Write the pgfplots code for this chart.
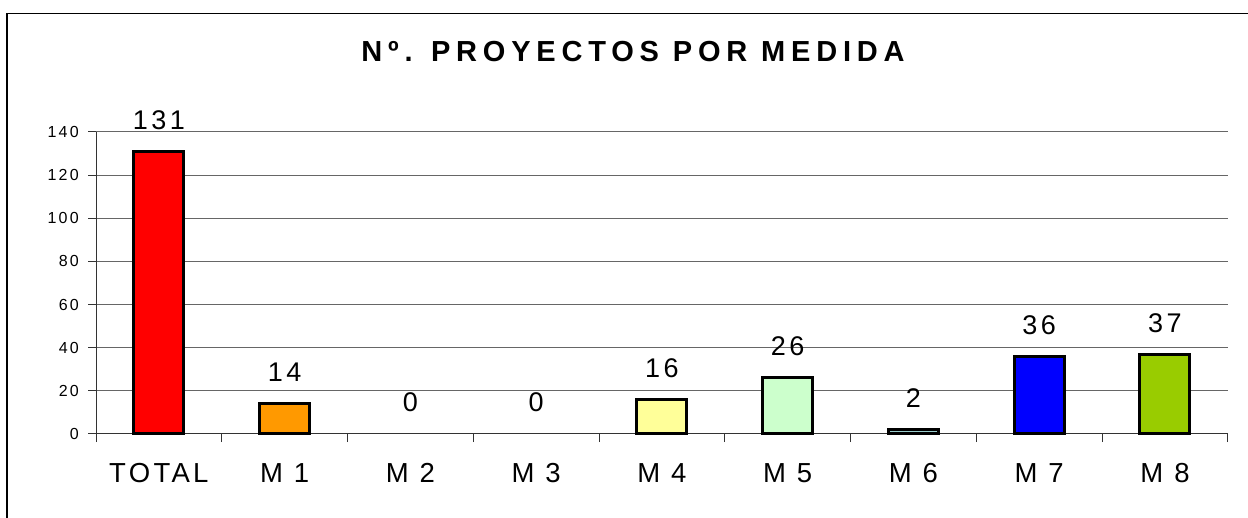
\documentclass[border=0pt]{standalone}
\usepackage{fontspec}
\setmainfont{Liberation Sans}
\usepackage{pgfplots}
\pgfplotsset{compat=1.18}
\definecolor{cTot}{HTML}{FF0000}
\definecolor{cMa}{HTML}{FF9900}
\definecolor{cMd}{HTML}{FFFF99}
\definecolor{cMe}{HTML}{CCFFCC}
\definecolor{cMf}{HTML}{99CCCC}
\definecolor{cMg}{HTML}{0000FF}
\definecolor{cMh}{HTML}{99CC00}
\newcommand{\titlefont}{\fontsize{29}{29}\selectfont\bfseries\addfontfeature{LetterSpace=20}}
\newcommand{\catfont}{\fontsize{27.5}{27.5}\selectfont\addfontfeature{LetterSpace=12}}
\newcommand{\valfont}{\fontsize{27}{27}\selectfont\addfontfeature{LetterSpace=13}}
\newcommand{\tickfont}{\fontsize{16}{16}\selectfont\addfontfeature{LetterSpace=14}}
\begin{document}
\begin{tikzpicture}[x=1pt,y=1pt]
\path[use as bounding box] (0pt,0pt) rectangle (1248pt,-518pt);
\draw[line width=1.2pt] (7pt,-540pt) -- (7pt,-13.5pt) -- (1270pt,-13.5pt);
\node[anchor=base, inner sep=0pt, font=\titlefont] at (633pt,-61.5pt) {Nº. PROYECTOS POR MEDIDA};
\begin{axis}[
  at={(96pt,-434pt)}, anchor=south west, scale only axis,
  width=1132pt, height=302pt,
  xmin=-0.5, xmax=8.5, ymin=0, ymax=140,
  axis x line=bottom, axis y line=left,
  axis line style={-, line width=1pt, black!80},
  /pgf/number format/assume math mode=true,
  ytick={0,20,...,140}, yticklabels={0,20,40,60,80,100,120,140},
  ymajorgrids, grid style={line width=1pt, black!60},
  tick align=outside, major tick length=8pt, minor tick length=8pt,
  tick style={line width=1pt, black!80},
  xtick={0,...,8},
  xticklabels={TOTAL,M 1,M 2,M 3,M 4,M 5,M 6,M 7,M 8},
  major x tick style={draw=none},
  minor xtick={-0.5,0.5,...,8.5},
  yticklabel style={font=\tickfont, anchor=east, inner sep=0pt, xshift=-9pt},
  xticklabel style={font=\catfont, anchor=base, inner sep=0pt, yshift=-40pt},
  clip=false,
]
\addplot[ybar, bar width=50pt, bar shift=0pt, fill=cTot, draw=black, line width=3pt] coordinates {(0,131)};
\addplot[ybar, bar width=50pt, bar shift=0pt, fill=cMa, draw=black, line width=3pt] coordinates {(1,14)};
\addplot[ybar, bar width=50pt, bar shift=0pt, fill=cMd, draw=black, line width=3pt] coordinates {(4,16)};
\addplot[ybar, bar width=50pt, bar shift=0pt, fill=cMe, draw=black, line width=3pt] coordinates {(5,26)};
\addplot[ybar, bar width=50pt, bar shift=0pt, fill=cMf, draw=black, line width=3pt] coordinates {(6,2)};
\addplot[ybar, bar width=50pt, bar shift=0pt, fill=cMg, draw=black, line width=3pt] coordinates {(7,36)};
\addplot[ybar, bar width=50pt, bar shift=0pt, fill=cMh, draw=black, line width=3pt] coordinates {(8,37)};
\addplot[draw=none, mark=none, point meta=explicit symbolic, nodes near coords,
  every node near coord/.append style={font=\valfont, inner sep=0pt, anchor=base, yshift=22pt}]
  coordinates {(0,131)[131] (1,14)[14] (2,0)[0] (3,0)[0] (4,16)[16] (5,26)[26] (6,2)[2] (7,36)[36] (8,37)[37]};
\end{axis}
\end{tikzpicture}
\end{document}
